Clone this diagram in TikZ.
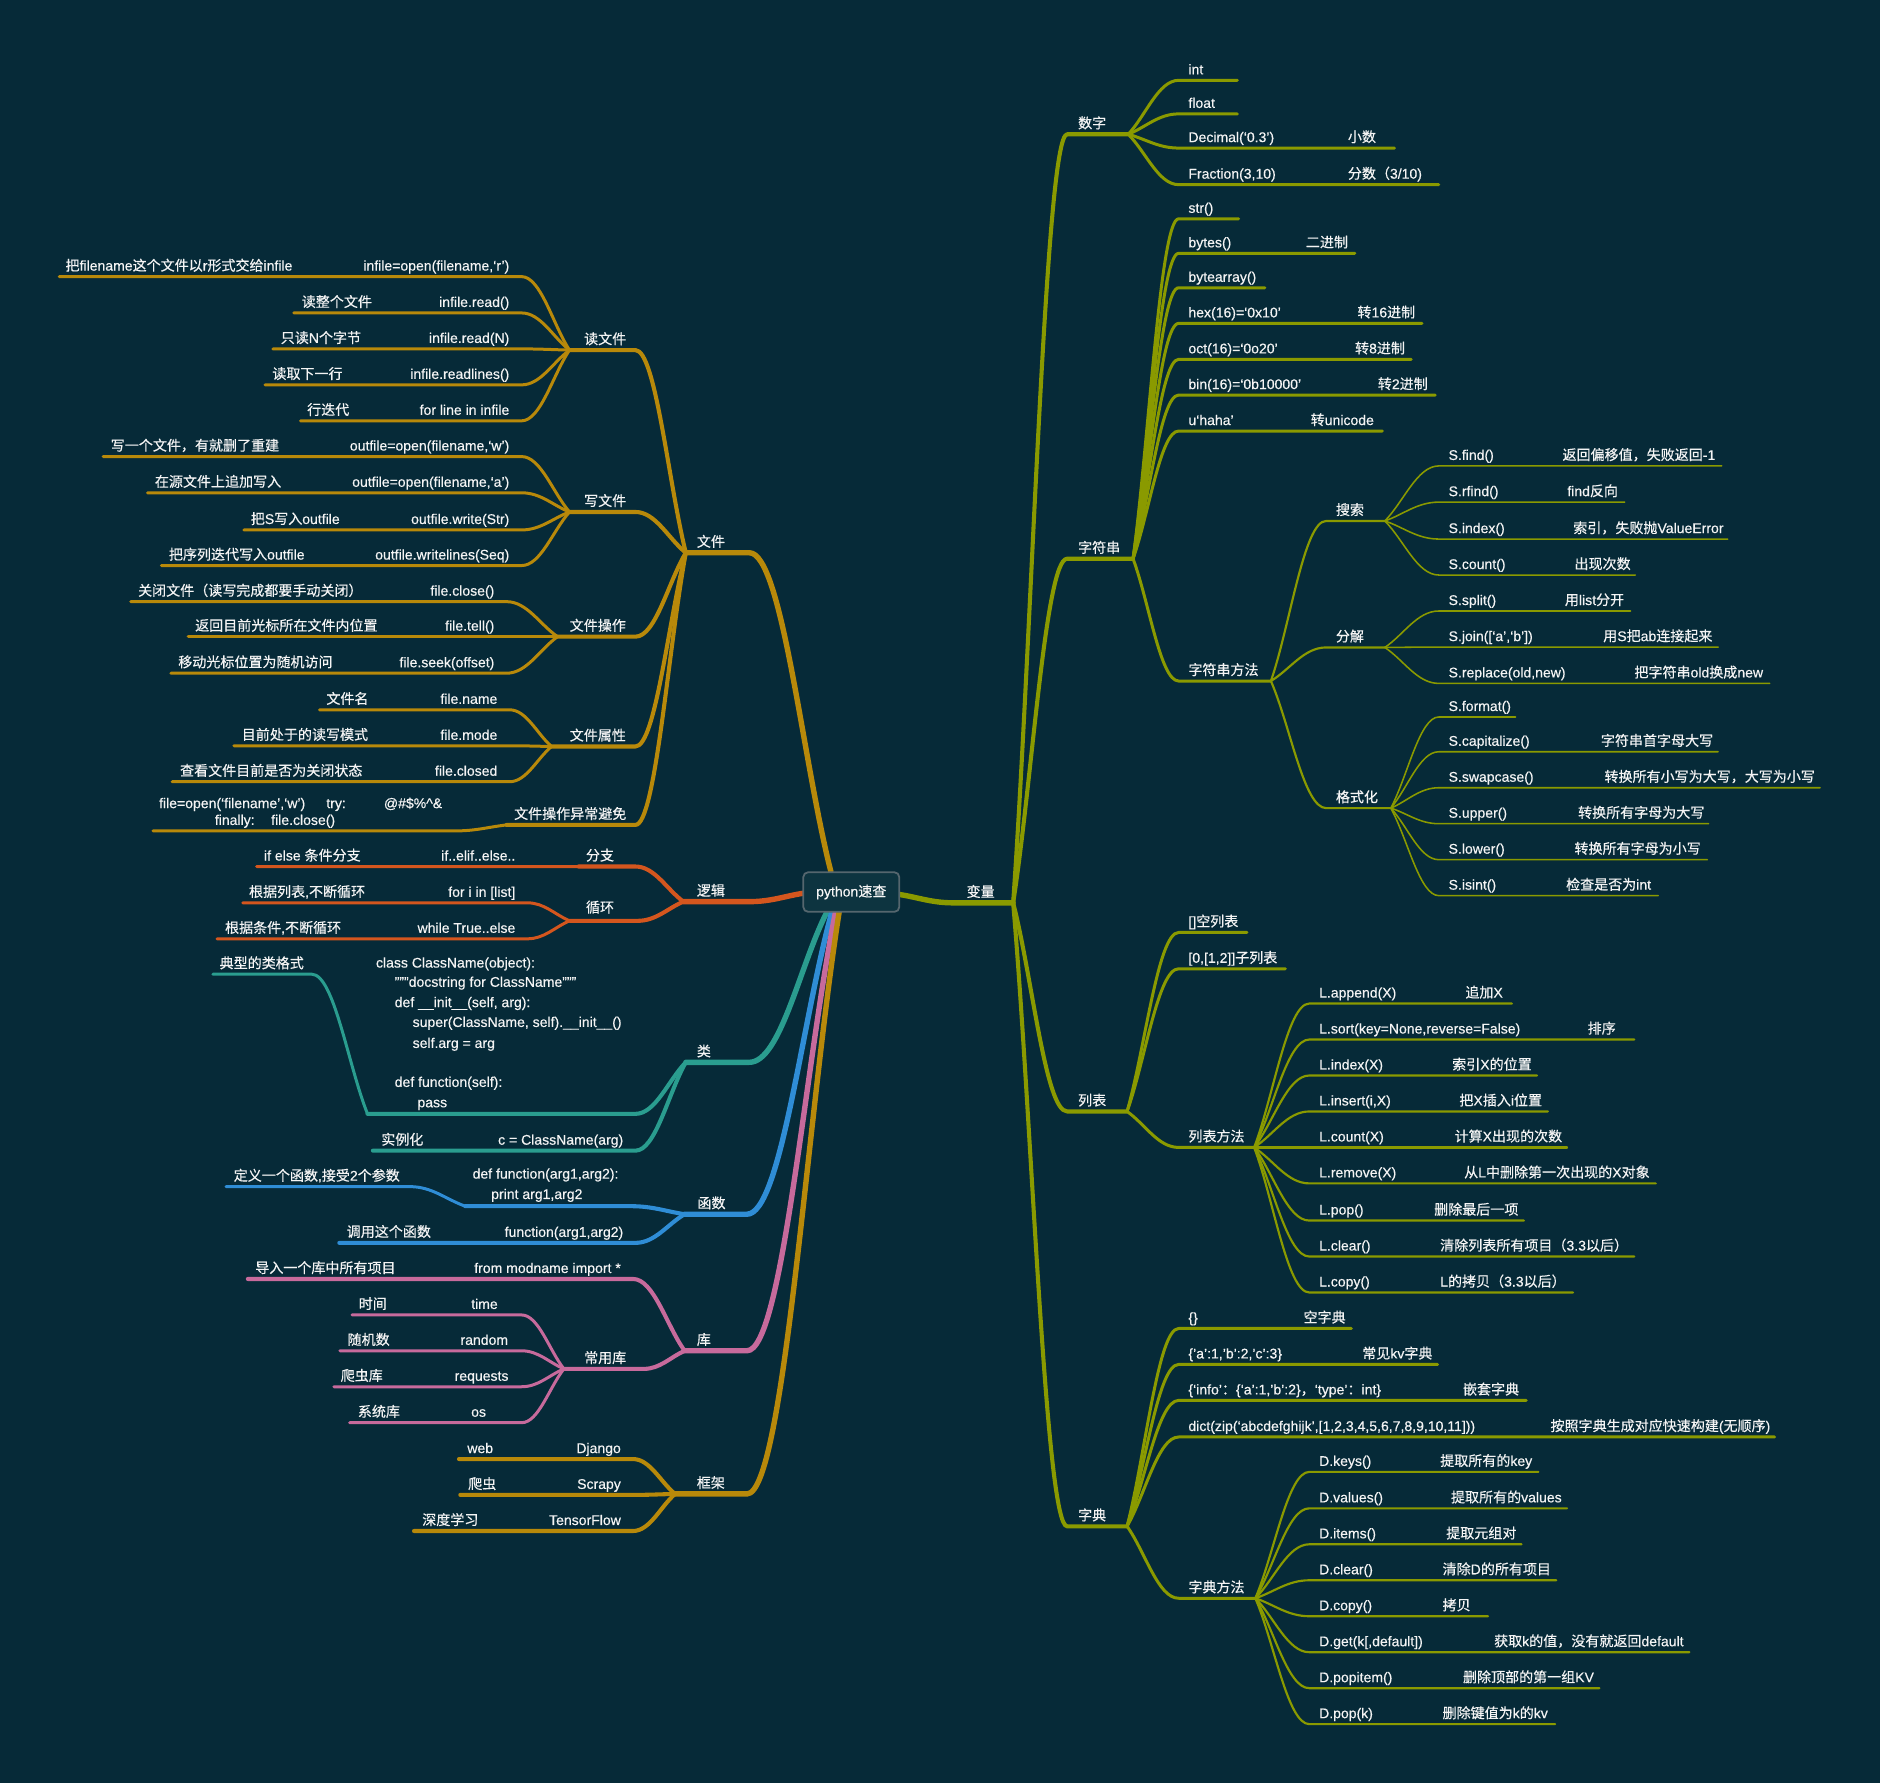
\documentclass[tikz,border=0pt]{standalone}
\usepackage{fontspec}
\setmainfont{Liberation Sans}[FakeBold=0.4,Ligatures=TeX]
\newfontfamily\cjkf{Noto Sans CJK SC}[FakeBold=0.4,Ligatures=TeX]
\newfontfamily\latf{Liberation Sans}[FakeBold=0.4,Ligatures=TeX]
\XeTeXinterchartokenstate=1
\newXeTeXintercharclass\CJKcls
\newcount\cjkcnt
\cjkcnt="4E00
\loop\XeTeXcharclass\cjkcnt=\CJKcls\relax\ifnum\cjkcnt<"9FFF\relax\advance\cjkcnt by 1\relax\repeat
\cjkcnt="3000
\loop\XeTeXcharclass\cjkcnt=\CJKcls\relax\ifnum\cjkcnt<"303F\relax\advance\cjkcnt by 1\relax\repeat
\cjkcnt="FF00
\loop\XeTeXcharclass\cjkcnt=\CJKcls\relax\ifnum\cjkcnt<"FFEF\relax\advance\cjkcnt by 1\relax\repeat
\XeTeXinterchartoks 0 \CJKcls={\cjkf}
\XeTeXinterchartoks 4095 \CJKcls={\cjkf}
\XeTeXinterchartoks \CJKcls 0={\latf}
\XeTeXinterchartoks \CJKcls 4095={\latf}
\usetikzlibrary{calc}
\definecolor{bg}{HTML}{062A38}
\definecolor{cgold}{HTML}{B8890A}
\definecolor{corg}{HTML}{D4561E}
\definecolor{cteal}{HTML}{2A9D8F}
\definecolor{cblue}{HTML}{2F8DD6}
\definecolor{cpink}{HTML}{C76A9C}
\definecolor{cgrn}{HTML}{8A9A00}
\definecolor{ctxt}{HTML}{F4F4F4}
\definecolor{rootfill}{HTML}{0D3440}
\definecolor{rootline}{HTML}{55666E}
\tikzset{
  txt/.style={text=ctxt,font=\fontsize{11.7}{13}\selectfont,inner sep=0pt,anchor=base west},
  txr/.style={txt,anchor=base east},
  lnA/.style={line width=4.5pt,line cap=round,line join=round},
  lnB/.style={line width=3.4pt,line cap=round,line join=round},
  lnC/.style={line width=2.5pt,line cap=round,line join=round},
  lnD/.style={line width=1.8pt,line cap=round,line join=round},
  lnE/.style={line width=1.3pt,line cap=round,line join=round},
  rootbox/.style={rounded corners=4pt,fill=rootfill,draw=rootline,line width=1.5pt,
    minimum width=80pt,minimum height=33pt,text=ctxt,font=\fontsize{11.7}{13}\selectfont,inner sep=0pt}
}
% right-side branch: name, parent, x start, x end, y, style
\newcommand\cR[6]{\coordinate (#1s) at (#3,#5); \coordinate (#1) at (#4,#5);
  \draw[#6] let \p1=(#2), \p2=(#1s) in (\p1) .. controls ({0.65*\x1+0.35*\x2},{0.65*\y1+0.35*\y2}) and ({0.4*\x1+0.6*\x2},\y2) .. (\p2) -- (#1);}
% left-side branch: name, parent, x right, x left (hub), y, style
\newcommand\cL[6]{\coordinate (#1r) at (#3,#5); \coordinate (#1) at (#4,#5);
  \draw[#6] let \p1=(#2), \p2=(#1r) in (\p1) .. controls ({0.65*\x1+0.35*\x2},{0.65*\y1+0.35*\y2}) and ({0.4*\x1+0.6*\x2},\y2) .. (\p2) -- (#1);}
\newcommand\tx[4]{\node[txt] (#1) at (#2,{#3-5}) {#4};}
\newcommand\tb[4]{\node[txt] (#1) at (#2,#3) {#4};}
\newcommand\iR[7]{\cR{#1}{#2}{#3}{#4}{#5}{#6}\node[txt] (#1t) at ({#3+8},{#5-5}) {#7};}
\newcommand\iRd[9]{\cR{#1}{#2}{#3}{#4}{#5}{#6}\node[txt] (#1t) at ({#3+8},{#5-5}) {#7};\node[txt] (#1d) at (#8,{#5-5}) {#9};}
\newcommand\iLd[9]{\cL{#1}{#2}{#3}{#4}{#5}{#6}\node[txr] (#1c) at ({#3-10},{#5-5}) {#7};\node[txt] (#1d) at (#8,{#5-5}) {#9};}
\begin{document}
\begin{tikzpicture}[x=1pt,y=-1pt]
\fill[bg] (0,0) rectangle (1568,1487);
\useasboundingbox (0,0) rectangle (1568,1487);
\coordinate (rR) at (750,746);
\coordinate (rT) at (693,727);
\coordinate (rL) at (670,745);
\coordinate (rB1) at (690,760);
\coordinate (rB2) at (694,760);
\coordinate (rB3) at (697,760);
\coordinate (rB4) at (700,760);
% ================= RIGHT =================
\cR{v}{rR}{795}{845}{753}{cgrn,lnA} \tx{vt}{806}{753}{变量}
\cR{num}{v}{890}{941}{112}{cgrn,lnB} \tx{numt}{899}{112}{数字}
\cR{str}{v}{890}{945}{466}{cgrn,lnB} \tx{strt}{899}{466}{字符串}
\cR{lst}{v}{890}{940}{927}{cgrn,lnB} \tx{lstt}{899}{927}{列表}
\cR{dct}{v}{890}{940}{1273}{cgrn,lnB} \tx{dctt}{899}{1273}{字典}
% numbers
\iR{n1}{num}{983}{1032}{67}{cgrn,lnC}{int}
\iR{n2}{num}{983}{1032}{95}{cgrn,lnC}{float}
\iRd{n3}{num}{983}{1163}{123.5}{cgrn,lnC}{Decimal(`0.3')}{1124}{小数}
\iRd{n4}{num}{983}{1200}{154}{cgrn,lnC}{Fraction(3,10)}{1124}{分数（3/10)}
% strings
\iR{s1}{str}{983}{1033}{182.5}{cgrn,lnC}{str()}
\iRd{s2}{str}{983}{1130}{211.3}{cgrn,lnC}{bytes()}{1089}{二进制}
\iR{s3}{str}{983}{1055}{240}{cgrn,lnC}{bytearray()}
\iRd{s4}{str}{983}{1186}{269.7}{cgrn,lnC}{hex(16)=`0x10'}{1132}{转16进制}
\iRd{s5}{str}{983}{1177}{299.7}{cgrn,lnC}{oct(16)=`0o20'}{1130}{转8进制}
\iRd{s6}{str}{983}{1197}{329.5}{cgrn,lnC}{bin(16)=`0b10000'}{1149}{转2进制}
\iRd{s7}{str}{983}{1153}{359.5}{cgrn,lnC}{u`haha'}{1093}{转unicode}
\iR{sm}{str}{983}{1060}{568}{cgrn,lnC}{字符串方法}
\iR{sa}{sm}{1106}{1155}{434.5}{cgrn,lnD}{搜索}
\iR{sb}{sm}{1106}{1155}{540}{cgrn,lnD}{分解}
\iR{sc}{sm}{1106}{1160}{674}{cgrn,lnD}{格式化}
\iRd{sa1}{sa}{1200}{1436}{388.6}{cgrn,lnE}{S.find()}{1303}{返回偏移值，失败返回-1}
\iRd{sa2}{sa}{1200}{1355}{418.8}{cgrn,lnE}{S.rfind()}{1307}{find反向}
\iRd{sa3}{sa}{1200}{1441}{449.6}{cgrn,lnE}{S.index()}{1312}{索引，失败抛ValueError}
\iRd{sa4}{sa}{1200}{1364}{479.6}{cgrn,lnE}{S.count()}{1313}{出现次数}
\iRd{sb1}{sb}{1200}{1360}{509.6}{cgrn,lnE}{S.split()}{1305}{用list分开}
\iRd{sb2}{sb}{1200}{1433}{539.7}{cgrn,lnE}{S.join([`a',`b'])}{1337}{用S把ab连接起来}
\iRd{sb3}{sb}{1200}{1476}{570}{cgrn,lnE}{S.replace(old,new)}{1363}{把字符串old换成new}
\iR{sc1}{sc}{1200}{1264}{598}{cgrn,lnE}{S.format()}
\iRd{sc2}{sc}{1200}{1433}{627}{cgrn,lnE}{S.capitalize()}{1335}{字符串首字母大写}
\iRd{sc3}{sc}{1200}{1518}{657}{cgrn,lnE}{S.swapcase()}{1338}{转换所有小写为大写，大写为小写}
\iRd{sc4}{sc}{1200}{1425}{687}{cgrn,lnE}{S.upper()}{1316}{转换所有字母为大写}
\iRd{sc5}{sc}{1200}{1424}{717}{cgrn,lnE}{S.lower()}{1313}{转换所有字母为小写}
\iRd{sc6}{sc}{1200}{1383}{747}{cgrn,lnE}{S.isint()}{1306}{检查是否为int}
% lists
\iR{l1}{lst}{983}{1040}{777.7}{cgrn,lnC}{[]空列表}
\iR{l2}{lst}{983}{1072}{808}{cgrn,lnC}{[0,[1,2]]子列表}
\iR{lm}{lst}{983}{1046}{957}{cgrn,lnC}{列表方法}
\iRd{lm1}{lm}{1092}{1261}{837}{cgrn,lnD}{L.append(X)}{1222}{追加X}
\iRd{lm2}{lm}{1092}{1363}{867}{cgrn,lnD}{L.sort(key=None,reverse=False)}{1324}{排序}
\iRd{lm3}{lm}{1092}{1282}{897}{cgrn,lnD}{L.index(X)}{1211}{索引X的位置}
\iRd{lm4}{lm}{1092}{1291}{927}{cgrn,lnD}{L.insert(i,X)}{1217}{把X插入i位置}
\iRd{lm5}{lm}{1092}{1307}{957}{cgrn,lnD}{L.count(X)}{1213}{计算X出现的次数}
\iRd{lm6}{lm}{1092}{1381}{987}{cgrn,lnD}{L.remove(X)}{1221}{从L中删除第一次出现的X对象}
\iRd{lm7}{lm}{1092}{1271}{1018}{cgrn,lnD}{L.pop()}{1196}{删除最后一项}
\iRd{lm8}{lm}{1092}{1363}{1048}{cgrn,lnD}{L.clear()}{1201}{清除列表所有项目（3.3以后）}
\iRd{lm9}{lm}{1092}{1312}{1078}{cgrn,lnD}{L.copy()}{1201}{L的拷贝（3.3以后）}
% dicts
\iRd{k1}{dct}{983}{1127}{1108}{cgrn,lnC}{\{\}}{1087}{空字典}
\iRd{k2}{dct}{983}{1199}{1138}{cgrn,lnC}{\{'a':1,'b':2,'c':3\}}{1136}{常见kv字典}
\iRd{k3}{dct}{983}{1273}{1168}{cgrn,lnC}{\{`info'：\{`a':1,'b':2\}，`type'：int\}}{1220}{嵌套字典}
\iRd{k4}{dct}{983}{1480}{1198.5}{cgrn,lnC}{dict(zip(`abcdefghijk',[1,2,3,4,5,6,7,8,9,10,11]))}{1293}{按照字典生成对应快速构建(无顺序)}
\iR{km}{dct}{983}{1047}{1333}{cgrn,lnC}{字典方法}
\iRd{km1}{km}{1092}{1283}{1227.6}{cgrn,lnD}{D.keys()}{1201}{提取所有的key}
\iRd{km2}{km}{1092}{1307}{1258}{cgrn,lnD}{D.values()}{1210}{提取所有的values}
\iRd{km3}{km}{1092}{1269}{1288}{cgrn,lnD}{D.items()}{1206}{提取元组对}
\iRd{km4}{km}{1092}{1298}{1318}{cgrn,lnD}{D.clear()}{1203}{清除D的所有项目}
\iRd{km5}{km}{1092}{1241}{1348}{cgrn,lnD}{D.copy()}{1203}{拷贝}
\iRd{km6}{km}{1092}{1409}{1378}{cgrn,lnD}{D.get(k[,default])}{1246}{获取k的值，没有就返回default}
\iRd{km7}{km}{1092}{1334}{1408}{cgrn,lnD}{D.popitem()}{1220}{删除顶部的第一组KV}
\iRd{km8}{km}{1092}{1297}{1438}{cgrn,lnD}{D.pop(k)}{1203}{删除键值为k的kv}
% ================= LEFT =================
% files
\cL{fl}{rT}{625}{572}{461}{cgold,lnA} \tx{flt}{581}{461}{文件}
\cL{f1}{fl}{530}{475}{292}{cgold,lnB} \tx{f1t}{487}{292}{读文件}
\cL{f2}{fl}{530}{475}{427}{cgold,lnB} \tx{f2t}{487}{427}{写文件}
\cL{f3}{fl}{530}{465}{531}{cgold,lnB} \tx{f3t}{475}{531}{文件操作}
\cL{f4}{fl}{530}{460}{622.6}{cgold,lnB} \tx{f4t}{475}{622.6}{文件属性}
\cL{f5}{fl}{530}{422.5}{688}{cgold,lnB} \tx{f5t}{428.6}{688}{文件操作异常避免}
\iLd{f11}{f1}{435}{49.4}{230.7}{cgold,lnC}{infile=open(filename,`r')}{54.5}{把filename这个文件以r形式交给infile}
\iLd{f12}{f1}{435}{245}{261}{cgold,lnC}{infile.read()}{251.5}{读整个文件}
\iLd{f13}{f1}{435}{227.6}{291}{cgold,lnC}{infile.read(N)}{234}{只读N个字节}
\iLd{f14}{f1}{435}{221}{321}{cgold,lnC}{infile.readlines()}{227}{读取下一行}
\iLd{f15}{f1}{435}{250.6}{351}{cgold,lnC}{for line in infile}{256}{行迭代}
\iLd{f21}{f2}{435}{86}{380.8}{cgold,lnC}{outfile=open(filename,`w')}{92.2}{写一个文件，有就删了重建}
\iLd{f22}{f2}{435}{123}{411}{cgold,lnC}{outfile=open(filename,`a')}{129}{在源文件上追加写入}
\iLd{f23}{f2}{435}{203.4}{442}{cgold,lnC}{outfile.write(Str)}{209}{把S写入outfile}
\iLd{f24}{f2}{435}{134.6}{471.7}{cgold,lnC}{outfile.writelines(Seq)}{140.7}{把序列迭代写入outfile}
\iLd{f31}{f3}{422.5}{109}{501.8}{cgold,lnC}{file.close()}{115}{关闭文件（读写完成都要手动关闭）}
\iLd{f32}{f3}{422.5}{157}{531}{cgold,lnC}{file.tell()}{162.6}{返回目前光标所在文件内位置}
\iLd{f33}{f3}{422.5}{142.5}{561.5}{cgold,lnC}{file.seek(offset)}{148.5}{移动光标位置为随机访问}
\iLd{f41}{f4}{425}{266.5}{592}{cgold,lnC}{file.name}{272}{文件名}
\iLd{f42}{f4}{425}{195}{622}{cgold,lnC}{file.mode}{201.5}{目前处于的读写模式}
\iLd{f43}{f4}{425}{143.5}{652}{cgold,lnC}{file.closed}{150}{查看文件目前是否为关闭状态}
\cL{f51}{f5}{380}{127.6}{693}{cgold,lnC}
\tb{f51a}{132.5}{674}{file=open(`filename',`w')}
\tb{f51b}{272}{674}{try:}
\tb{f51c}{320}{674}{@\#\$\%\textasciicircum\&}
\tb{f51d}{179}{688}{finally:}
\tb{f51e}{226}{688}{file.close()}
% logic
\cL{lg}{rL}{625}{570}{752}{corg,lnA} \tx{lgt}{581}{752}{逻辑}
\cL{g1}{lg}{530}{482.5}{722.7}{corg,lnB} \tx{g1t}{488.5}{722.7}{分支}
\cL{g2}{lg}{532}{475}{768}{corg,lnB} \tb{g2t}{488.5}{761}{循环}
\iLd{g11}{g1}{440}{214}{722.7}{corg,lnC}{if..elif..else..}{220}{if else 条件分支}
\iLd{g21}{g2}{440}{202.5}{753}{corg,lnC}{for i in [list]}{207.5}{根据列表,不断循环}
\iLd{g22}{g2}{440}{181}{783}{corg,lnC}{while True..else}{187.5}{根据条件,不断循环}
% class
\cL{cl}{rB1}{625}{572}{886}{cteal,lnA} \tx{clt}{581}{886}{类}
\cL{c1}{cl}{530}{306.5}{929}{cteal,lnB}
\tb{c1a}{313.4}{807}{class ClassName(object):}
\tb{c1b}{329}{823}{"""docstring for ClassName"""}
\tb{c1c}{329}{840}{def \_\_init\_\_(self, arg):}
\tb{c1d}{344}{856.5}{super(ClassName, self).\_\_init\_\_()}
\tb{c1e}{344}{874}{self.arg = arg}
\tb{c1f}{329}{906.5}{def function(self):}
\tb{c1g}{348}{923.5}{pass}
\cL{c11}{c1}{260}{177.5}{812.5}{cteal,lnC} \tx{c11t}{183}{812.5}{典型的类格式}
\iLd{c2}{cl}{530}{311}{959.7}{cteal,lnB}{c = ClassName(arg)}{317.8}{实例化}
% functions
\cL{fn}{rB2}{623}{571}{1012.7}{cblue,lnA} \tx{fnt}{581.5}{1012.7}{函数}
\cL{d1}{fn}{526.5}{388}{1006}{cblue,lnB}
\tb{d1a}{394}{983}{def function(arg1,arg2):}
\tb{d1b}{409.5}{1000}{print arg1,arg2}
\cL{d11}{d1}{342}{188.5}{989.7}{cblue,lnC} \tx{d11t}{194.8}{989.7}{定义一个函数,接受2个参数}
\iLd{d2}{fn}{530}{283}{1036.6}{cblue,lnB}{function(arg1,arg2)}{289}{调用这个函数}
% libraries
\cL{lb}{rB3}{623}{571}{1126.6}{cpink,lnA} \tx{lbt}{581}{1126.6}{库}
\iLd{b1}{lb}{528}{206.7}{1066.7}{cpink,lnB}{from modname import *}{212.7}{导入一个库中所有项目}
\cL{b2}{lb}{537}{470.3}{1141.7}{cpink,lnB} \tx{b2t}{487}{1141.7}{常用库}
\cL{b21}{b2}{435}{293.6}{1096.7}{cpink,lnC} \tx{b21c}{392.8}{1096.7}{time} \tx{b21d}{299}{1096.7}{时间}
\cL{b22}{b2}{435}{283.4}{1126.6}{cpink,lnC} \tx{b22c}{383.9}{1126.6}{random} \tx{b22d}{289.7}{1126.6}{随机数}
\cL{b23}{b2}{435}{278.5}{1156.6}{cpink,lnC} \tx{b23c}{379}{1156.6}{requests} \tx{b23d}{284}{1156.6}{爬虫库}
\cL{b24}{b2}{435}{291.6}{1186.6}{cpink,lnC} \tx{b24c}{392.8}{1186.6}{os} \tx{b24d}{298.3}{1186.6}{系统库}
% frameworks
\cL{fw}{rB4}{623}{563}{1246}{cgold,lnA} \tx{fwt}{581}{1246}{框架}
\iLd{w1}{fw}{528}{382.8}{1216.9}{cgold,lnB}{Django}{389.6}{web}
\iLd{w2}{fw}{528}{383.9}{1246.8}{cgold,lnB}{Scrapy}{390.3}{爬虫}
\iLd{w3}{fw}{528}{345.3}{1276.9}{cgold,lnB}{TensorFlow}{352}{深度学习}
% root
\node[rootbox] (root) at (710,744) {python速查};
\end{tikzpicture}
\end{document}
